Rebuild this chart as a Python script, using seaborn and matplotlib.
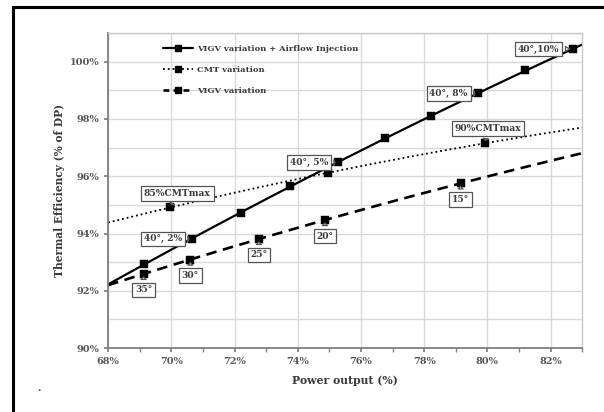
import numpy as np
import pandas as pd
import matplotlib.pyplot as plt
import seaborn as sns
from matplotlib.lines import Line2D
from matplotlib.patches import Rectangle
from matplotlib.ticker import FuncFormatter

# values (power output %, thermal efficiency % of DP)
airflow_x = [69.12, 70.65, 72.21, 73.75, 75.27, 76.75, 78.22, 79.69, 81.2, 82.7]
airflow_y = [92.92, 93.81, 94.73, 95.66, 96.48, 97.32, 98.10, 98.89, 99.69, 100.44]
cmt_x = [69.97, 74.95, 79.92]
cmt_y = [94.91, 96.12, 97.15]
vigv_x = [69.12, 70.6, 72.77, 74.86, 79.15]
vigv_y = [92.59, 93.09, 93.81, 94.47, 95.75]

series_names = ['VIGV variation + Airflow Injection', 'CMT variation', 'VIGV variation']

airflow_labels = {1: '40°, 2%', 4: '40°, 5%', 7: '40°, 8%', 9: '40°,10%'}
cmt_labels = {0: '85%CMTmax', 2: '90%CMTmax'}
vigv_labels = {0: '35°', 1: '30°', 2: '25°', 3: '20°', 4: '15°'}

sns.set_theme(style='whitegrid')
plt.rcParams['font.family'] = ['DejaVu Serif']
plt.rcParams['font.weight'] = 'bold'
txt = '#3b3b3b'

fig = plt.figure(figsize=(6.04, 4.12), dpi=100)
ax = fig.add_axes([0.179, 0.155, 0.785, 0.765])

# trend curves (excel style trendlines) fitted on the read points
xs = np.linspace(68, 83, 200)
curves = []
for name, x, y in zip(series_names, [airflow_x, cmt_x, vigv_x], [airflow_y, cmt_y, vigv_y]):
    c = np.polyfit(x, y, 2)
    curves.append(pd.DataFrame({'x': xs, 'y': np.polyval(c, xs), 'series': name}))
df_curve = pd.concat(curves)

styles = {series_names[0]: '-', series_names[1]: ':', series_names[2]: (0, (4, 2.5))}
widths = {series_names[0]: 1.6, series_names[1]: 1.3, series_names[2]: 1.9}
for name in series_names:
    d = df_curve[df_curve['series'] == name]
    sns.lineplot(data=d, x='x', y='y', ax=ax, color='black', linestyle=styles[name],
                 linewidth=widths[name], legend=False)

df_pts = pd.DataFrame({'x': airflow_x + cmt_x + vigv_x, 'y': airflow_y + cmt_y + vigv_y})
sns.scatterplot(data=df_pts, x='x', y='y', ax=ax, marker='s', s=32, color='black',
                edgecolor='black', linewidth=0.3, zorder=5)

# callout boxes
box = dict(boxstyle='square,pad=0.3', fc='white', ec='#555555', lw=0.9)
arrow = dict(arrowstyle='wedge,tail_width=0.55,shrink_factor=0.4', fc='white', ec='#555555', lw=0.9)

def callout(label, px, py, dx, dy):
    ax.annotate(label, (px, py), xytext=(dx, dy), textcoords='offset pixels',
                ha='center', va='center', fontsize=6.6, color=txt, fontweight='bold',
                bbox=box, arrowprops=arrow, zorder=6)

for i, lab in airflow_labels.items():
    dx = -34 if i == 9 else -29
    callout(lab, airflow_x[i], airflow_y[i], dx, 0)
callout(cmt_labels[0], cmt_x[0], cmt_y[0], 7, 14)
callout(cmt_labels[2], cmt_x[2], cmt_y[2], 3, 15)
for i, lab in vigv_labels.items():
    callout(lab, vigv_x[i], vigv_y[i], 0, -16)

ax.set_xlim(68, 83)
ax.set_ylim(90, 101)
ax.set_xticks(np.arange(68, 84, 2))
ax.set_xticks(np.arange(69, 84, 2), minor=True)
ax.set_yticks(np.arange(90, 101, 2))
ax.set_yticks(np.arange(91, 102, 2), minor=True)
pct = FuncFormatter(lambda v, p: f'{v:.0f}%')
ax.xaxis.set_major_formatter(pct)
ax.yaxis.set_major_formatter(pct)
ax.grid(which='major', color='#d9d9d9', lw=1.0)
ax.yaxis.grid(True, which='minor', color='#d9d9d9', lw=1.0)
ax.xaxis.grid(False, which='minor')
ax.tick_params(axis='both', which='major', labelsize=7, labelcolor='#555555', length=3,
               color='#7f7f7f', direction='out', bottom=True, left=True)
ax.tick_params(axis='x', which='minor', length=3, color='#7f7f7f', bottom=True)
ax.tick_params(axis='y', which='minor', length=0)
for lab in ax.get_xticklabels() + ax.get_yticklabels():
    lab.set_fontweight('bold')
for s in ['left', 'bottom']:
    ax.spines[s].set_color('#7f7f7f')
    ax.spines[s].set_linewidth(1.3)
for s in ['top', 'right']:
    ax.spines[s].set_color('#c8c8c8')
    ax.spines[s].set_linewidth(1.0)

ax.set_xlabel('Power output (%)', fontsize=7.8, color=txt, fontweight='bold', labelpad=6)
ax.set_ylabel('Thermal Efficiency (% of DP)', fontsize=7.7, color=txt, fontweight='bold', labelpad=3)

legend_styles = ['-', ':', (0, (2.2, 1.6))]
handles = [Line2D([], [], color='black', linestyle=ls, linewidth=widths[n],
                  marker='s', markersize=5) for n, ls in zip(series_names, legend_styles)]
ax.legend(handles, series_names, loc='upper left', bbox_to_anchor=(0.1, 0.985), frameon=False,
          fontsize=6.0, labelcolor=txt, handlelength=3.6, labelspacing=1.55, handletextpad=0.5)

# outer frame of the original figure and the stray dot
fig.patches.append(Rectangle((13 / 604, -0.1), 1.2, 1.1 - 7.5 / 412, transform=fig.transFigure,
                             fill=False, ec='black', lw=2.2))
fig.text(37 / 604, 1 - 391 / 412, '.', fontsize=7, color=txt)

fig.savefig('out.png', dpi=100)
